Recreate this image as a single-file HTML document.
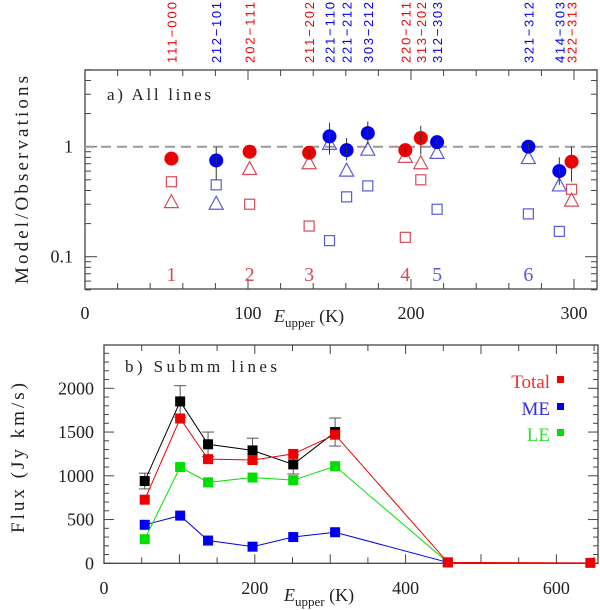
<!DOCTYPE html>
<html><head><meta charset="utf-8"><style>
html,body{margin:0;padding:0;background:#fff;}
svg{display:block;font-family:"Liberation Serif",serif;}
</style></head><body>
<svg id="chart" width="600" height="610" viewBox="0 0 600 610" xmlns="http://www.w3.org/2000/svg">
<g id="panelA"></g>
<g id="panelB"></g>
</svg>
<script>
// ---- Panel a data ----
const linesA = ["111-000","212-101","202-111","211-202","221-110","221-212","303-212","220-211","313-202","312-303","321-312","414-303","322-313"];
const eupA = [53,80.5,101,137.5,150,160.5,173.5,196.5,206,216,272,291,298.5];
const colorA = ["r","b","r","r","b","b","b","r","r","b","b","b","r"];
const circA = [0.78,0.75,0.9,0.88,1.24,0.93,1.33,0.93,1.2,1.1,1.0,0.6,0.73];
const errLoA = [0.72,0.5,0.84,0.82,0.85,0.75,1.05,0.86,0.85,1.0,0.93,0.45,0.48];
const errHiA = [0.85,1.0,0.97,0.95,1.65,1.2,1.7,1.0,1.55,1.2,1.05,0.8,1.0];
const triA = [0.31,0.3,0.62,0.7,1.05,0.6,0.93,0.8,0.7,0.87,0.78,0.44,0.32];
const sqA = [0.48,0.45,0.3,0.19,0.14,0.35,0.44,0.15,0.5,0.27,0.245,0.17,0.41];
const numLabels = ["1","2","3","4","5","6"];
const numE = [53,101,137.5,196.5,216,272];
const numColor = ["r","r","r","r","b","b"];
// ---- Panel b data ----
const eupB = [54,101,138,197,251,306.5,456,645];
const totalB = [727,1655,1190,1180,1250,1470,10,5];
const obsB = [940,1850,1360,1290,1130,1500];
const obsErr = [90,180,140,140,110,160];
const meB = [440,545,260,190,300,355,10];
const leB = [275,1100,925,980,950,1110,10];

const NS="http://www.w3.org/2000/svg";
function mk(parent,tag,attrs,text){const e=document.createElementNS(NS,tag);for(const k in attrs)e.setAttribute(k,attrs[k]);if(text!==undefined)e.textContent=text;parent.appendChild(e);return e;}
const RED="#ee0000",BLUE="#0000ee",ORED="#d84a5a",OBLUE="#5a5ad8";

// ---- Panel a ----
const gTop=document.getElementById('panelA');
const ax0=85,ax1=597,ay0=70,ay1=289;
const xA=e=>ax0+e*1.63;
const yA=v=>146.7-Math.log10(v)*110;
let r=mk(gTop,'rect',{x:ax0,y:ay0,width:ax1-ax0,height:ay1-ay0,fill:'none',stroke:'#444','stroke-width':1.3});

for(let e=0;e<=315;e+=20){const big=e%100===0;const L=big?10:6;
 mk(gTop,'line',{x1:xA(e),x2:xA(e),y1:ay1,y2:ay1-L,stroke:'#444'});
 mk(gTop,'line',{x1:xA(e),x2:xA(e),y1:ay0,y2:ay0+L,stroke:'#444'});}
[0,100,200,300].forEach(e=>{const t=mk(gTop,'text',{x:xA(e),y:319,'font-size':18,'text-anchor':'middle',fill:'#222'},String(e));
 });
[0.05,0.06,0.07,0.08,0.09,0.1,0.2,0.3,0.4,0.5,0.6,0.7,0.8,0.9,1,2,3,4,5].forEach(v=>{const big=(v===0.1||v===1);const L=big?12:6;const y=yA(v);
 mk(gTop,'line',{x1:ax0,x2:ax0+L,y1:y,y2:y,stroke:'#444'});mk(gTop,'line',{x1:ax1,x2:ax1-L,y1:y,y2:y,stroke:'#444'});});
[[1,"1"],[0.1,"0.1"]].forEach(([v,s])=>{const t=mk(gTop,'text',{x:73,y:yA(v)+6,'font-size':18,'text-anchor':'end',fill:'#222'},s);
 });
let d=mk(gTop,'line',{x1:ax0,x2:ax1,y1:yA(1),y2:yA(1),stroke:'#999','stroke-width':2,'stroke-dasharray':'10,6'});

let yl=mk(gTop,'text',{transform:'translate(28,180) rotate(-90)','font-size':19,'text-anchor':'middle',fill:'#222',textLength:208,lengthAdjust:'spacing'},'Model/Observations');

let xl=mk(gTop,'text',{x:274,y:322,'font-size':18,fill:'#222'});

xl.innerHTML='<tspan font-style="italic">E</tspan><tspan font-size="13" dy="5">upper</tspan><tspan dy="-5"> (K)</tspan>';
let pt=mk(gTop,'text',{x:107,y:100,'font-size':17,fill:'#222',textLength:104,lengthAdjust:'spacing'},'a) All lines');

for(let i=0;i<eupA.length;i++){
 const x=xA(eupA[i]);const fc=colorA[i]==='r'?RED:BLUE;const oc=colorA[i]==='r'?ORED:OBLUE;
 const lab=mk(gTop,'text',{transform:`translate(${x+5},63) rotate(-90)`,'font-size':13,fill:fc,'font-family':'Liberation Sans, sans-serif',textLength:61,lengthAdjust:'spacing'},linesA[i].replace('-','\u2212'));
 
 const ys=yA(sqA[i]);
 const sq=mk(gTop,'rect',{x:x-5,y:ys-5,width:10,height:10,fill:'none',stroke:oc,'stroke-width':1.2});
 
 const yt=yA(triA[i]);
 const tr=mk(gTop,'polygon',{points:`${x-7},${yt+5} ${x+7},${yt+5} ${x},${yt-8}`,fill:'none',stroke:oc,'stroke-width':1.2});
 
 const eb=mk(gTop,'line',{x1:x,x2:x,y1:yA(errHiA[i]),y2:yA(errLoA[i]),stroke:'#333','stroke-width':1});
 
 const c=mk(gTop,'circle',{cx:x,cy:yA(circA[i]),r:7,fill:fc});
 
 mk(gTop,'line',{x1:x,x2:x,y1:yA(circA[i])-4,y2:yA(circA[i])+4,stroke:'#333','stroke-width':1});
}
for(let i=0;i<numLabels.length;i++){
 const t=mk(gTop,'text',{x:xA(numE[i]),y:281,'font-size':20,'text-anchor':'middle',fill:numColor[i]==='r'?ORED:OBLUE},numLabels[i]);
 
}

// ---- Panel b ----
const gBot=document.getElementById('panelB');
const bx0=104,bx1=598,by0=345,by1=563.3;
const xB=e=>bx0+e*0.754;
const yB=v=>by1-v*0.0875;
let r2=mk(gBot,'rect',{x:bx0,y:by0,width:bx1-bx0,height:by1-by0,fill:'none',stroke:'#444','stroke-width':1.3});

for(let e=0;e<=650;e+=50){const L=e%100===0?9:6;
 mk(gBot,'line',{x1:xB(e),x2:xB(e),y1:by1,y2:by1-L,stroke:'#444'});mk(gBot,'line',{x1:xB(e),x2:xB(e),y1:by0,y2:by0+L,stroke:'#444'});}
for(let v=0;v<=2400;v+=100){const L=v%500===0?10:5;
 mk(gBot,'line',{x1:bx0,x2:bx0+L,y1:yB(v),y2:yB(v),stroke:'#444'});mk(gBot,'line',{x1:bx1,x2:bx1-L,y1:yB(v),y2:yB(v),stroke:'#444'});}
[0,200,400,600].forEach(e=>{const t=mk(gBot,'text',{x:xB(e),y:594,'font-size':18,'text-anchor':'middle',fill:'#222'},String(e));
 });
[0,500,1000,1500,2000].forEach(v=>{const t=mk(gBot,'text',{x:94,y:yB(v)+6,'font-size':18,'text-anchor':'end',fill:'#222'},String(v));
 });
let yl2=mk(gBot,'text',{transform:'translate(24,458) rotate(-90)','font-size':19,'text-anchor':'middle',fill:'#222',textLength:150,lengthAdjust:'spacing'},'Flux (Jy km/s)');

let xl2=mk(gBot,'text',{x:284,y:601,'font-size':18,fill:'#222'});

xl2.innerHTML='<tspan font-style="italic">E</tspan><tspan font-size="13" dy="5">upper</tspan><tspan dy="-5"> (K)</tspan>';
let pt2=mk(gBot,'text',{x:125,y:372,'font-size':17,fill:'#222',textLength:152,lengthAdjust:'spacing'},'b) Submm lines');

function series(vals,col,name){
 const pts=vals.map((v,i)=>`${xB(eupB[i])},${yB(v)}`).join(' ');
 const pl=mk(gBot,'polyline',{points:pts,fill:'none',stroke:col,'stroke-width':1});
 
 vals.forEach((v,i)=>{const s=mk(gBot,'rect',{x:xB(eupB[i])-5,y:yB(v)-5,width:10,height:10,fill:col});
  });
}
obsB.forEach((v,i)=>{const x=xB(eupB[i]);
 const e=mk(gBot,'line',{x1:x,x2:x,y1:yB(v+obsErr[i]),y2:yB(v-obsErr[i]),stroke:'#555'});
 
 mk(gBot,'line',{x1:x-6,x2:x+6,y1:yB(v+obsErr[i]),y2:yB(v+obsErr[i]),stroke:'#555'});
 mk(gBot,'line',{x1:x-6,x2:x+6,y1:yB(v-obsErr[i]),y2:yB(v-obsErr[i]),stroke:'#555'});});
series(meB,'#0000ee','me');
series(leB,'#00e000','le');
series(obsB,'#000000','observed');
series(totalB,'#ee0000','total');
[["Total","#ee3030","#ee0000",388],["ME","#3030dd","#0000ee",415],["LE","#30dd30","#00e000",441]].forEach(([s,c,sc,y])=>{
 const t=mk(gBot,'text',{x:550,y:y,'font-size':19,'text-anchor':'end',fill:c},s);
 
 const q=mk(gBot,'rect',{x:557,y:y-12,width:7,height:7,fill:sc});
 });
</script>
</body></html>
